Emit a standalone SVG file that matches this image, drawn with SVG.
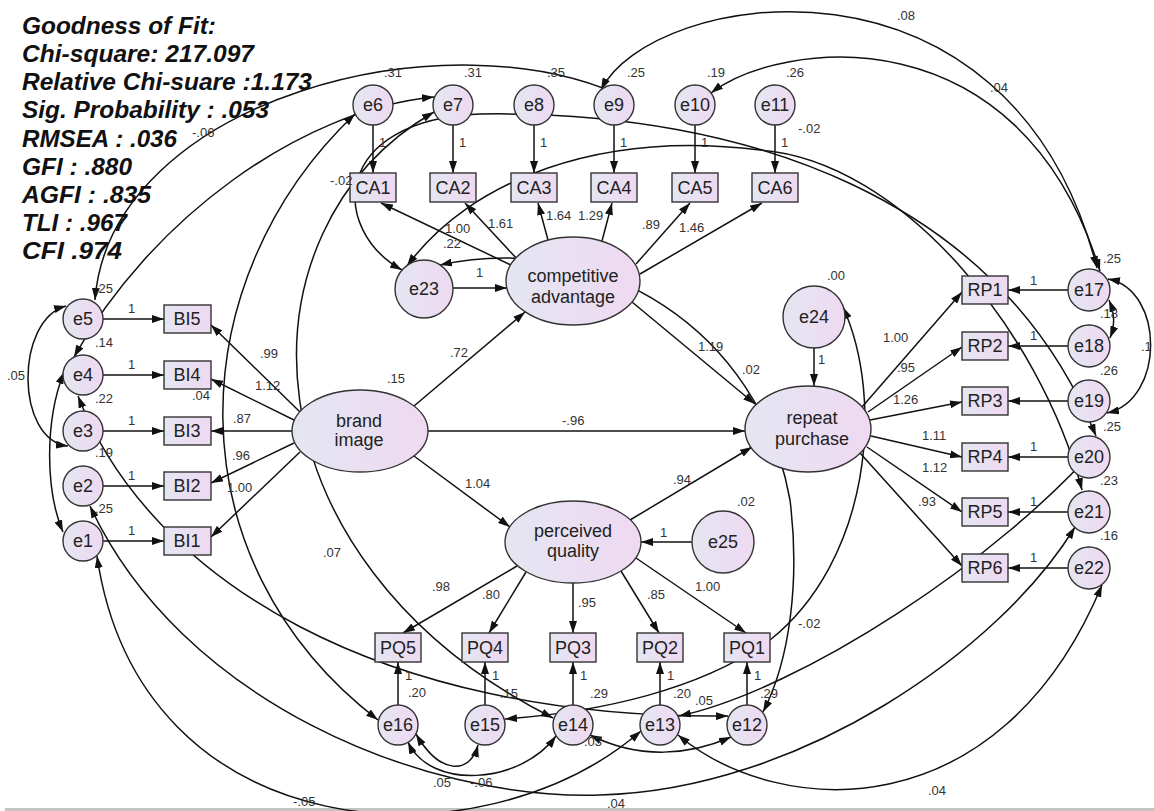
<svg xmlns="http://www.w3.org/2000/svg" width="1154" height="811" viewBox="0 0 1154 811">
<defs>
<linearGradient id="g" x1="0" y1="0" x2="1" y2="0"><stop offset="0" stop-color="#e4e6f2"/><stop offset="1" stop-color="#efd9f1"/></linearGradient>
<marker id="ah" viewBox="0 0 12 8" refX="12" refY="4" markerWidth="12" markerHeight="8" orient="auto-start-reverse" markerUnits="userSpaceOnUse"><path d="M0,0 L12,4 L0,8 z" fill="#111"/></marker>
<style>
.n{fill:url(#g);stroke:#333;stroke-width:1.4}
.t{font-family:"Liberation Sans",Arial,sans-serif;font-size:18px;fill:#222;text-anchor:middle}
.lt{font-family:"Liberation Sans",Arial,sans-serif;font-size:18px;fill:#222;text-anchor:middle}
.l{font-family:"Liberation Sans",Arial,sans-serif;font-size:13px;fill:#333}
.h{font-family:"Liberation Sans",Arial,sans-serif;font-size:23px;font-weight:bold;font-style:italic;fill:#111}
.a{fill:none;stroke:#111;stroke-width:1.5;marker-end:url(#ah)}
.c{fill:none;stroke:#111;stroke-width:1.5;marker-start:url(#ah);marker-end:url(#ah)}
</style>
</defs>
<rect width="1154" height="811" fill="#fff"/>
<rect x="5" y="808" width="1149" height="3" fill="#c4c4c4"/>
<g id="fit">
<text class="h" x="22" y="34" textLength="194" lengthAdjust="spacingAndGlyphs">Goodness of Fit:</text>
<text class="h" x="22" y="62" textLength="232" lengthAdjust="spacingAndGlyphs">Chi-square: 217.097</text>
<text class="h" x="22" y="90" textLength="290" lengthAdjust="spacingAndGlyphs">Relative Chi-suare :1.173</text>
<text class="h" x="22" y="118" textLength="247" lengthAdjust="spacingAndGlyphs">Sig. Probability : .053</text>
<text class="h" x="22" y="147" textLength="155" lengthAdjust="spacingAndGlyphs">RMSEA : .036</text>
<text class="h" x="22" y="175" textLength="110" lengthAdjust="spacingAndGlyphs">GFI : .880</text>
<text class="h" x="22" y="203" textLength="129" lengthAdjust="spacingAndGlyphs">AGFI : .835</text>
<text class="h" x="22" y="231" textLength="105" lengthAdjust="spacingAndGlyphs">TLI : .967</text>
<text class="h" x="22" y="259" textLength="100" lengthAdjust="spacingAndGlyphs">CFI  .974</text>
</g>
<g id="connectors">
<path class="a" d="M373,125 L373,173"/><path class="a" d="M453,125 L453,173"/><path class="a" d="M534,125 L534,173"/><path class="a" d="M614,125 L614,173"/><path class="a" d="M695,125 L695,173"/><path class="a" d="M775,125 L775,173"/>
<path class="a" d="M513,266 L381,203"/><path class="a" d="M518,260 L465,203"/><path class="a" d="M548,240 L538,203"/><path class="a" d="M602,241 L612,203"/><path class="a" d="M636,264 L690,203"/><path class="a" d="M640,274 L762,203"/>
<path class="a" d="M453,288 L507,288"/>
<path class="a" d="M414,406 L525,312"/>
<path class="a" d="M428,431 L745,431"/>
<path class="a" d="M414,456 L510,527"/>
<path class="a" d="M630,520 L752,447"/>
<path class="a" d="M632,302 L755,404"/>
<path class="a" d="M814,348 L814,386"/>
<path class="a" d="M692,542 L641,542"/>
<path class="a" d="M300,412 L211,325"/><path class="a" d="M294,420 L211,379"/><path class="a" d="M292,431 L211,431"/><path class="a" d="M294,443 L211,483"/><path class="a" d="M300,452 L211,537"/>
<path class="a" d="M103,319 L164,319"/><path class="a" d="M103,375 L164,375"/><path class="a" d="M103,431 L164,431"/><path class="a" d="M103,486 L164,486"/><path class="a" d="M103,541 L164,541"/>
<path class="a" d="M862,407 L962,292"/><path class="a" d="M868,412 L962,347"/><path class="a" d="M870,420 L962,402"/><path class="a" d="M871,436 L962,457"/><path class="a" d="M867,447 L962,512"/><path class="a" d="M860,453 L962,566"/>
<path class="a" d="M1068,290 L1008,290"/><path class="a" d="M1068,346 L1008,346"/><path class="a" d="M1068,401 L1008,401"/><path class="a" d="M1068,457 L1008,457"/><path class="a" d="M1068,512 L1008,512"/><path class="a" d="M1068,568 L1008,568"/>
<path class="a" d="M517,566 L403,633"/><path class="a" d="M526,572 L489,633"/><path class="a" d="M573,583 L573,633"/><path class="a" d="M621,571 L659,633"/><path class="a" d="M636,558 L746,633"/>
<path class="a" d="M398,705 L398,662"/><path class="a" d="M485,705 L485,662"/><path class="a" d="M573,705 L573,662"/><path class="a" d="M660,705 L660,662"/><path class="a" d="M747,705 L747,662"/>
<path class="c" d="M66,306 C15,320 15,440 68,446"/>
<path class="c" d="M64,372 C45,420 45,490 63,532"/>
<path class="c" d="M1109,300 C1115,315 1115,325 1110,338"/>
<path class="c" d="M1108,279 C1165,290 1165,400 1107,413"/>
<path class="c" d="M601,90 C650,-10 1010,-70 1097,268"/>
<path class="c" d="M711,93 C780,40 1020,10 1100,271"/>
<path class="c" d="M95,300 C110,100 450,10 630,100"/>
<path class="c" d="M74,357 C150,220 300,110 434,97"/>
<path class="c" d="M407,266 C470,180 600,130 760,150 C900,160 1040,330 1082,490"/>
<path class="c" d="M402,270 C330,230 330,120 480,114 C750,110 1000,200 1096,436"/>
<path class="c" d="M355,114 C180,280 170,560 378,720"/>
<path class="c" d="M434,112 C230,230 240,560 553,718"/>
<path class="c" d="M440,265 C600,230 760,330 790,500 C800,580 790,660 763,712"/>
<path class="c" d="M843,307 C885,400 870,560 770,640 C700,690 600,712 505,719"/>
<path class="c" d="M97,556 C140,850 480,870 641,731"/>
<path class="c" d="M90,506 C180,700 420,800 600,795 C800,790 1000,650 1075,527"/>
<path class="c" d="M78,396 C150,580 380,720 728,716"/>
<path class="c" d="M678,735 C780,820 1000,830 1102,585"/>
<path class="c" d="M679,716 C800,690 1000,560 1102,441"/>
<path class="c" d="M590,735 C640,760 690,755 731,737"/>
<path class="c" d="M408,742 C430,790 520,785 556,736"/>
<path class="c" d="M416,734 C440,775 470,775 478,745"/>
</g>
<g id="nodes">
<g id="e6"><circle class="n" cx="373" cy="105" r="20"/><text class="t" x="373" y="111">e6</text></g>
<g id="e7"><circle class="n" cx="453" cy="105" r="20"/><text class="t" x="453" y="111">e7</text></g>
<g id="e8"><circle class="n" cx="534" cy="105" r="20"/><text class="t" x="534" y="111">e8</text></g>
<g id="e9"><circle class="n" cx="614" cy="105" r="20"/><text class="t" x="614" y="111">e9</text></g>
<g id="e10"><circle class="n" cx="695" cy="105" r="20"/><text class="t" x="695" y="111">e10</text></g>
<g id="e11"><circle class="n" cx="775" cy="105" r="20"/><text class="t" x="775" y="111">e11</text></g>
<g id="CA1"><rect class="n" x="350" y="173" width="46" height="29"/><text class="t" x="373" y="194">CA1</text></g>
<g id="CA2"><rect class="n" x="430" y="173" width="46" height="29"/><text class="t" x="453" y="194">CA2</text></g>
<g id="CA3"><rect class="n" x="511" y="173" width="46" height="29"/><text class="t" x="534" y="194">CA3</text></g>
<g id="CA4"><rect class="n" x="591" y="173" width="46" height="29"/><text class="t" x="614" y="194">CA4</text></g>
<g id="CA5"><rect class="n" x="672" y="173" width="46" height="29"/><text class="t" x="695" y="194">CA5</text></g>
<g id="CA6"><rect class="n" x="752" y="173" width="46" height="29"/><text class="t" x="775" y="194">CA6</text></g>
<g id="e23"><circle class="n" cx="424" cy="289" r="29"/><text class="t" x="424" y="295">e23</text></g>
<g id="competitive"><ellipse class="n" cx="573" cy="281" rx="67" ry="44"/><text class="lt" x="573" y="282">competitive</text><text class="lt" x="573" y="303">advantage</text></g>
<g id="brand"><ellipse class="n" cx="360" cy="431" rx="68" ry="41"/><text class="lt" x="359" y="427">brand</text><text class="lt" x="359" y="446">image</text></g>
<g id="repeat"><ellipse class="n" cx="808" cy="429" rx="63" ry="43"/><text class="lt" x="812" y="424">repeat</text><text class="lt" x="812" y="445">purchase</text></g>
<g id="e24"><circle class="n" cx="814" cy="317" r="31"/><text class="t" x="814" y="323">e24</text></g>
<g id="perceived"><ellipse class="n" cx="573" cy="542" rx="68" ry="41"/><text class="lt" x="573" y="537">perceived</text><text class="lt" x="573" y="557">quality</text></g>
<g id="e25"><circle class="n" cx="723" cy="542" r="31"/><text class="t" x="723" y="548">e25</text></g>
<g id="e5"><circle class="n" cx="83" cy="319" r="20"/><text class="t" x="83" y="325">e5</text></g>
<g id="e4"><circle class="n" cx="83" cy="375" r="20"/><text class="t" x="83" y="381">e4</text></g>
<g id="e3"><circle class="n" cx="83" cy="431" r="20"/><text class="t" x="83" y="437">e3</text></g>
<g id="e2"><circle class="n" cx="83" cy="486" r="20"/><text class="t" x="83" y="492">e2</text></g>
<g id="e1"><circle class="n" cx="83" cy="541" r="20"/><text class="t" x="83" y="547">e1</text></g>
<g id="BI5"><rect class="n" x="164" y="305" width="47" height="28"/><text class="t" x="187" y="325">BI5</text></g>
<g id="BI4"><rect class="n" x="164" y="361" width="47" height="28"/><text class="t" x="187" y="381">BI4</text></g>
<g id="BI3"><rect class="n" x="164" y="417" width="47" height="28"/><text class="t" x="187" y="437">BI3</text></g>
<g id="BI2"><rect class="n" x="164" y="472" width="47" height="28"/><text class="t" x="187" y="492">BI2</text></g>
<g id="BI1"><rect class="n" x="164" y="527" width="47" height="28"/><text class="t" x="187" y="547">BI1</text></g>
<g id="RP1"><rect class="n" x="962" y="276" width="46" height="28"/><text class="t" x="985" y="296">RP1</text></g>
<g id="RP2"><rect class="n" x="962" y="332" width="46" height="28"/><text class="t" x="985" y="352">RP2</text></g>
<g id="RP3"><rect class="n" x="962" y="387" width="46" height="28"/><text class="t" x="985" y="407">RP3</text></g>
<g id="RP4"><rect class="n" x="962" y="443" width="46" height="28"/><text class="t" x="985" y="463">RP4</text></g>
<g id="RP5"><rect class="n" x="962" y="498" width="46" height="28"/><text class="t" x="985" y="518">RP5</text></g>
<g id="RP6"><rect class="n" x="962" y="554" width="46" height="28"/><text class="t" x="985" y="574">RP6</text></g>
<g id="e17"><circle class="n" cx="1089" cy="290" r="21"/><text class="t" x="1089" y="296">e17</text></g>
<g id="e18"><circle class="n" cx="1089" cy="346" r="21"/><text class="t" x="1089" y="352">e18</text></g>
<g id="e19"><circle class="n" cx="1089" cy="401" r="21"/><text class="t" x="1089" y="407">e19</text></g>
<g id="e20"><circle class="n" cx="1089" cy="457" r="21"/><text class="t" x="1089" y="463">e20</text></g>
<g id="e21"><circle class="n" cx="1089" cy="512" r="21"/><text class="t" x="1089" y="518">e21</text></g>
<g id="e22"><circle class="n" cx="1089" cy="568" r="21"/><text class="t" x="1089" y="574">e22</text></g>
<g id="PQ5"><rect class="n" x="375" y="633" width="46" height="29"/><text class="t" x="398" y="654">PQ5</text></g>
<g id="PQ4"><rect class="n" x="462" y="633" width="46" height="29"/><text class="t" x="485" y="654">PQ4</text></g>
<g id="PQ3"><rect class="n" x="550" y="633" width="46" height="29"/><text class="t" x="573" y="654">PQ3</text></g>
<g id="PQ2"><rect class="n" x="637" y="633" width="46" height="29"/><text class="t" x="660" y="654">PQ2</text></g>
<g id="PQ1"><rect class="n" x="724" y="633" width="46" height="29"/><text class="t" x="747" y="654">PQ1</text></g>
<g id="e16"><circle class="n" cx="398" cy="725" r="20"/><text class="t" x="398" y="731">e16</text></g>
<g id="e15"><circle class="n" cx="485" cy="725" r="20"/><text class="t" x="485" y="731">e15</text></g>
<g id="e14"><circle class="n" cx="573" cy="725" r="20"/><text class="t" x="573" y="731">e14</text></g>
<g id="e13"><circle class="n" cx="660" cy="725" r="20"/><text class="t" x="660" y="731">e13</text></g>
<g id="e12"><circle class="n" cx="747" cy="725" r="20"/><text class="t" x="747" y="731">e12</text></g>
</g>
<g id="labels">
<text class="l" x="384" y="77">.31</text><text class="l" x="464" y="77">.31</text><text class="l" x="547" y="77">.35</text><text class="l" x="627" y="77">.25</text><text class="l" x="707" y="77">.19</text><text class="l" x="786" y="77">.26</text>
<text class="l" x="379" y="147">1</text><text class="l" x="459" y="147">1</text><text class="l" x="540" y="147">1</text><text class="l" x="620" y="147">1</text><text class="l" x="701" y="147">1</text><text class="l" x="781" y="147">1</text>
<text class="l" x="192" y="137">-.06</text><text class="l" x="330" y="185">-.02</text><text class="l" x="798" y="133">-.02</text><text class="l" x="897" y="20">.08</text><text class="l" x="990" y="92">.04</text>
<text class="l" x="445" y="233">1.00</text><text class="l" x="488" y="228">1.61</text><text class="l" x="546" y="220">1.64</text><text class="l" x="578" y="220">1.29</text><text class="l" x="642" y="229">.89</text><text class="l" x="679" y="232">1.46</text>
<text class="l" x="443" y="248">.22</text><text class="l" x="476" y="277">1</text>
<text class="l" x="95" y="293">.25</text><text class="l" x="95" y="347">.14</text><text class="l" x="95" y="403">.22</text><text class="l" x="95" y="457">.19</text><text class="l" x="95" y="513">.25</text>
<text class="l" x="128" y="313">1</text><text class="l" x="128" y="369">1</text><text class="l" x="128" y="425">1</text><text class="l" x="128" y="480">1</text><text class="l" x="128" y="535">1</text>
<text class="l" x="7" y="380">.05</text><text class="l" x="192" y="400">.04</text><text class="l" x="387" y="383">.15</text>
<text class="l" x="260" y="358">.99</text><text class="l" x="255" y="390">1.12</text><text class="l" x="233" y="423">.87</text><text class="l" x="232" y="460">.96</text><text class="l" x="227" y="492">1.00</text>
<text class="l" x="450" y="357">.72</text><text class="l" x="562" y="425">-.96</text><text class="l" x="465" y="488">1.04</text><text class="l" x="673" y="484">.94</text><text class="l" x="698" y="351">1.19</text><text class="l" x="742" y="374">.02</text>
<text class="l" x="827" y="280">.00</text><text class="l" x="818" y="364">1</text><text class="l" x="737" y="506">.02</text><text class="l" x="660" y="537">1</text>
<text class="l" x="883" y="342">1.00</text><text class="l" x="897" y="372">.95</text><text class="l" x="893" y="404">1.26</text><text class="l" x="922" y="440">1.11</text><text class="l" x="922" y="472">1.12</text><text class="l" x="918" y="506">.93</text>
<text class="l" x="1030" y="285">1</text><text class="l" x="1030" y="340">1</text><text class="l" x="1030" y="451">1</text><text class="l" x="1030" y="506">1</text><text class="l" x="1030" y="562">1</text>
<text class="l" x="1103" y="263">.25</text><text class="l" x="1100" y="318">.18</text><text class="l" x="1100" y="375">.26</text><text class="l" x="1103" y="431">.25</text><text class="l" x="1100" y="485">.23</text><text class="l" x="1100" y="540">.16</text><text class="l" x="1141" y="351">.1</text>
<text class="l" x="432" y="591">.98</text><text class="l" x="482" y="599">.80</text><text class="l" x="578" y="607">.95</text><text class="l" x="647" y="599">.85</text><text class="l" x="695" y="591">1.00</text>
<text class="l" x="405" y="680">1</text><text class="l" x="492" y="680">1</text><text class="l" x="580" y="680">1</text><text class="l" x="667" y="680">1</text><text class="l" x="754" y="680">1</text>
<text class="l" x="408" y="697">.20</text><text class="l" x="500" y="698">.15</text><text class="l" x="590" y="698">.29</text><text class="l" x="673" y="698">.20</text><text class="l" x="760" y="698">.29</text>
<text class="l" x="695" y="705">.05</text><text class="l" x="584" y="746">.03</text><text class="l" x="323" y="557">.07</text><text class="l" x="798" y="628">-.02</text>
<text class="l" x="433" y="787">.05</text><text class="l" x="470" y="787">-.06</text><text class="l" x="293" y="806">-.05</text><text class="l" x="607" y="808">.04</text><text class="l" x="928" y="795">.04</text>
</g>
</svg>
